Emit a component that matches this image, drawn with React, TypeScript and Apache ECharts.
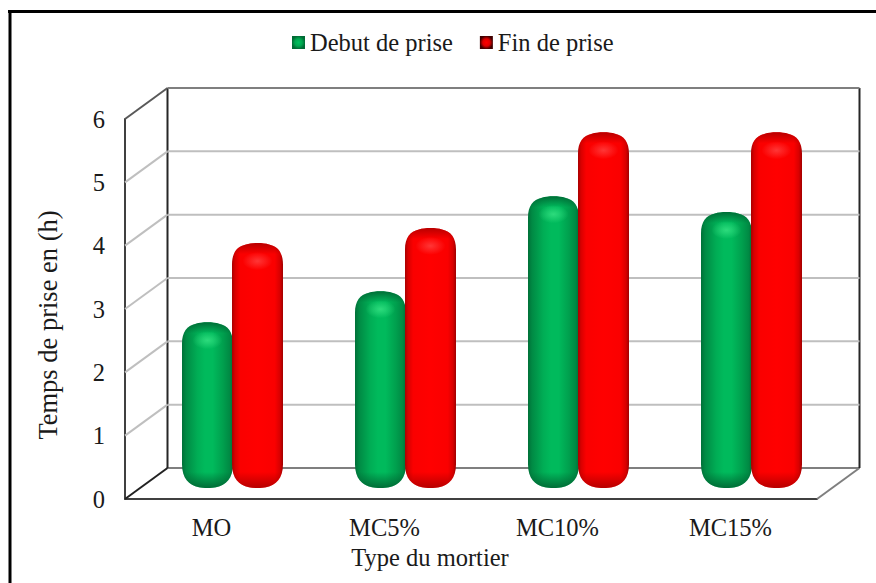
import React, { useEffect, useRef } from "react";
import * as echarts from "echarts";

const categories = ["MO", "MC5%", "MC10%", "MC15%"];
const debutValues = [2.53, 3.02, 4.52, 4.27];
const finValues = [3.78, 4.02, 5.53, 5.53];
const wallTicks = [0, 1, 2, 3, 4, 5, 6];

const FONT = '"Liberation Serif", "Times New Roman", serif';
const DX = 42.5;
const DY = -31;
const BAR_W = 51;

const lin = (x2: number, y2: number, stops: [number, string][]) => ({
  type: "linear", x: 0, y: 0, x2, y2, global: false,
  colorStops: stops.map(([offset, color]) => ({ offset, color })),
});
const rad = (stops: [number, string][]) => ({
  type: "radial", x: 0.5, y: 0.5, r: 0.5, global: false,
  colorStops: stops.map(([offset, color]) => ({ offset, color })),
});

type Tone = { side: [number, string][]; dark: string; clear: string; glow: string; glowClear: string };
const GREEN: Tone = {
  side: [[0, "#007038"], [0.08, "#008a44"], [0.3, "#00ad55"], [0.45, "#00ba5c"], [0.6, "#00ba5c"], [0.8, "#00a04e"], [0.93, "#008a44"], [1, "#007038"]],
  dark: "rgba(0,95,48,0.85)", clear: "rgba(0,95,48,0)", glow: "rgba(60,230,135,0.75)", glowClear: "rgba(60,230,135,0)",
};
const RED: Tone = {
  side: [[0, "#a80000"], [0.06, "#d80000"], [0.16, "#fa0000"], [0.5, "#ff0000"], [0.84, "#fa0000"], [0.94, "#d80000"], [1, "#a00000"]],
  dark: "rgba(165,0,0,0.8)", clear: "rgba(165,0,0,0)", glow: "rgba(255,90,90,0.6)", glowClear: "rgba(255,90,90,0)",
};

const barOutline = (x: number, y: number, w: number, b: number) => {
  const r = x + w;
  return [
    `M${x} ${y + 22}`,
    `C${x} ${y + 10} ${x + 5} ${y + 4} ${x + 14} ${y + 2}`,
    `C${x + 20} ${y} ${r - 20} ${y} ${r - 14} ${y + 2}`,
    `C${r - 5} ${y + 4} ${r} ${y + 10} ${r} ${y + 22}`,
    `L${r} ${b - 24}`,
    `C${r} ${b - 10} ${r - 7} ${b - 3} ${r - 17} ${b - 1}`,
    `C${r - 22} ${b} ${x + 22} ${b} ${x + 17} ${b - 1}`,
    `C${x + 7} ${b - 3} ${x} ${b - 10} ${x} ${b - 24}`,
    "Z",
  ].join(" ");
};

const barSeries = (name: string, values: number[], side: number, tone: Tone) => ({
  name,
  type: "custom",
  coordinateSystem: "cartesian2d",
  clip: false,
  z: 5,
  encode: { x: 0, y: 1 },
  data: values.map((v, i) => [i, v]),
  renderItem: (_p: any, api: any) => {
    const top = api.coord([api.value(0), api.value(1)]);
    const base = api.coord([api.value(0), 0]);
    const x = top[0] + DX / 2 - 0.75 + (side < 0 ? -BAR_W + 1 : 0);
    const y = top[1] + DY / 2 - 1;
    const bottom = base[1] + DY / 2 + 4.5;
    const h = bottom - y;
    const pathData = barOutline(x, y, BAR_W, bottom);
    const box = { x, y, width: BAR_W, height: h };
    return {
      type: "group",
      children: [
        { type: "path", shape: { pathData, ...box, layout: "cover" }, style: { fill: lin(1, 0, tone.side) } },
        {
          type: "path",
          shape: { pathData, ...box, layout: "cover" },
          style: { fill: lin(0, 1, [[0, tone.dark], [11 / h, tone.clear], [1 - 16 / h, tone.clear], [1, tone.dark]]) },
        },
        { type: "ellipse", shape: { cx: x + BAR_W / 2, cy: y + 18, rx: 15, ry: 9 }, style: { fill: rad([[0, tone.glow], [1, tone.glowClear]]) } },
      ],
    };
  },
});

const wallSeries = {
  name: "walls",
  type: "custom",
  coordinateSystem: "cartesian2d",
  clip: false,
  silent: true,
  z: 1,
  encode: { x: 0, y: 1 },
  data: wallTicks.map((t) => [0, t]),
  renderItem: (p: any, api: any) => {
    const v = api.value(1);
    const y = api.coord([0, v])[1];
    const g = p.coordSys;
    const l = g.x;
    const r = g.x + g.width;
    const edge = v === 0 || v === wallTicks[wallTicks.length - 1];
    const color = edge ? "#7f7f7f" : "#bfbfbf";
    const children: any[] = [
      { type: "line", shape: { x1: l + DX, y1: y + DY, x2: r + DX, y2: y + DY }, style: { stroke: color, lineWidth: 2 } },
      { type: "line", shape: { x1: l, y1: y, x2: l + DX, y2: y + DY }, style: { stroke: v === 0 ? "#222222" : edge ? "#595959" : "#bfbfbf", lineWidth: 2 } },
    ];
    if (v === 0) {
      children.push(
        { type: "line", shape: { x1: r, y1: y, x2: r + DX, y2: y + DY }, style: { stroke: "#7f7f7f", lineWidth: 2 } },
        { type: "line", shape: { x1: l + DX, y1: y + DY, x2: l + DX, y2: g.y + DY }, style: { stroke: "#262626", lineWidth: 2 } },
        { type: "line", shape: { x1: r + DX, y1: y + DY, x2: r + DX, y2: g.y + DY }, style: { stroke: "#262626", lineWidth: 2 } },
      );
    }
    return { type: "group", children };
  },
};

export default function App() {
  const ref = useRef<HTMLDivElement>(null);
  useEffect(() => {
    const chart = echarts.init(ref.current!, null, { renderer: "svg" });
    chart.setOption({
      animation: false,
      backgroundColor: "#ffffff",
      grid: { left: 125, right: 59, top: 119, bottom: 84, containLabel: false },
      legend: {
        top: 25,
        left: 287,
        itemWidth: 13,
        itemHeight: 13,
        itemGap: 27,
        selectedMode: false,
        textStyle: { fontFamily: FONT, fontSize: 24.5, color: "#1a1a1a" },
        data: [
          { name: "Debut de prise", icon: "rect", itemStyle: { color: rad([[0, "#00c060"], [0.55, "#00a850"], [1, "#006b35"]]) } },
          { name: "Fin de prise", icon: "rect", itemStyle: { color: rad([[0, "#ff0000"], [0.55, "#e00000"], [1, "#400000"]]) } },
        ],
      },
      xAxis: {
        type: "category",
        data: categories,
        axisLine: { show: true, lineStyle: { color: "#404040", width: 2 } },
        axisTick: { show: false },
        axisLabel: { fontFamily: FONT, fontSize: 24.5, color: "#1a1a1a", margin: 16 },
      },
      yAxis: {
        type: "value",
        min: 0,
        max: 6,
        interval: 1,
        axisLine: { show: true, lineStyle: { color: "#404040", width: 2 } },
        axisTick: { show: false },
        splitLine: { show: false },
        axisLabel: { fontFamily: FONT, fontSize: 24.5, color: "#1a1a1a", margin: 20 },
      },
      graphic: [
        { type: "line", shape: { x1: 8, y1: 11.5, x2: 876, y2: 11.5 }, style: { stroke: "#000", lineWidth: 3 } },
        { type: "line", shape: { x1: 10, y1: 10, x2: 10, y2: 583 }, style: { stroke: "#000", lineWidth: 3 } },
        { type: "text", x: 430, y: 557, style: { text: "Type du mortier", fontFamily: FONT, fontSize: 24.5, fill: "#1a1a1a", align: "center", verticalAlign: "middle" } },
        { type: "text", x: 48, y: 325, rotation: Math.PI / 2, style: { text: "Temps de prise en (h)", fontFamily: FONT, fontSize: 26.5, fill: "#1a1a1a", align: "center", verticalAlign: "middle" } },
      ],
      series: [
        wallSeries,
        barSeries("Debut de prise", debutValues, -1, GREEN),
        barSeries("Fin de prise", finValues, 1, RED),
      ],
    });
    return () => chart.dispose();
  }, []);
  return <div ref={ref} style={{ position: "fixed", left: 0, top: 0, width: 876, height: 583 }} />;
}
